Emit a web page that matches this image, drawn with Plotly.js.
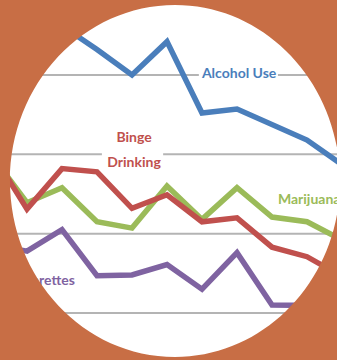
<!DOCTYPE html>
<html>
<head>
<meta charset="utf-8">
<script src="https://cdn.plot.ly/plotly-3.0.1.min.js"></script>
<style>
  html, body { margin: 0; padding: 0; background: #C86E45; }
  #chart { width: 337px; height: 360px; }
</style>
</head>
<body>
<div id="chart"></div>
<script>
// ---- data ----
var years = [2002, 2003, 2004, 2005, 2006, 2007, 2008, 2009, 2010, 2011, 2012];
var alcoholUse    = [51.4, 48.8, 46.2, 43.2, 40.0, 44.2, 35.2, 35.7, 33.7, 31.8, 28.7];
var bingeDrinking = [30.2, 23.1, 28.2, 27.8, 23.2, 24.9, 21.5, 22.0, 18.3, 17.1, 14.6];
var marijuana     = [29.8, 23.9, 25.8, 21.5, 20.7, 26.0, 21.8, 25.8, 22.1, 21.5, 19.2];
var cigarettes    = [18.6, 17.8, 20.5, 14.7, 14.8, 16.1, 13.0, 17.6, 11.0, 10.9, 10.9];
var gridValues = [10, 20, 30, 40, 50];
var seriesNames = ['Alcohol Use', 'Binge Drinking', 'Marijuana', 'Cigarettes'];

// ---- styling ----
var W = 337, H = 360;
var bg = '#C86E45';
var colors = ['#4a7ebb', '#c0504d', '#9bbb59', '#7f63a1'];
var labelFont = 'Lato, "Open Sans", sans-serif';

function lineTrace(y, c, name) {
  return { x: years, y: y, type: 'scatter', mode: 'lines', name: name,
           line: { color: c, width: 5.5 }, hoverinfo: 'skip' };
}
function textTrace(x, y, txt, c, pos) {
  return { x: [x], y: [y], type: 'scatter', mode: 'text', text: [txt],
           textposition: pos, textfont: { family: labelFont, size: 14, color: c, weight: 'bold' },
           hoverinfo: 'skip', cliponaxis: false };
}

var data = [
  lineTrace(cigarettes, colors[3], seriesNames[3]),
  lineTrace(marijuana, colors[2], seriesNames[2]),
  lineTrace(bingeDrinking, colors[1], seriesNames[1]),
  lineTrace(alcoholUse, colors[0], seriesNames[0]),
  textTrace(2009.06, 40.0, 'Alcohol Use', colors[0], 'middle center'),
  textTrace(2006.06, 32.0, 'Binge', colors[1], 'middle center'),
  textTrace(2006.06, 28.8, 'Drinking', colors[1], 'middle center'),
  textTrace(2010.17, 24.2, 'Marijuana', colors[2], 'middle right'),
  textTrace(2004.37, 14.0, 'Cigarettes', colors[3], 'middle left')
];

// gridlines (full width) with white gaps behind labels
var shapes = [];
gridValues.forEach(function (v) {
  shapes.push({ type: 'line', xref: 'paper', yref: 'y', x0: 0, x1: 1, y0: v, y1: v,
                line: { color: '#b4b4b4', width: 2 }, layer: 'below' });
});
shapes.push({ type: 'rect', xref: 'x', yref: 'y', x0: 2007.91, x1: 2010.17, y0: 38.8, y1: 41.2,
              fillcolor: '#ffffff', line: { width: 0 }, layer: 'below' });
shapes.push({ type: 'rect', xref: 'x', yref: 'y', x0: 2005.14, x1: 2006.89, y0: 28.8, y1: 31.2,
              fillcolor: '#ffffff', line: { width: 0 }, layer: 'below' });

// orange mask with an elliptical window
var cx = 175, cy = 181, rx = 165, ry = 176, k = 0.5523;
function P(px, py) { return (px / W).toFixed(5) + ',' + (1 - py / H).toFixed(5); }
var path = 'M' + P(-2, -2) + ' L' + P(W + 2, -2) + ' L' + P(W + 2, H + 2) + ' L' + P(-2, H + 2) + ' Z ' +
  'M' + P(cx, cy - ry) +
  ' C' + P(cx - k * rx, cy - ry) + ' ' + P(cx - rx, cy - k * ry) + ' ' + P(cx - rx, cy) +
  ' C' + P(cx - rx, cy + k * ry) + ' ' + P(cx - k * rx, cy + ry) + ' ' + P(cx, cy + ry) +
  ' C' + P(cx + k * rx, cy + ry) + ' ' + P(cx + rx, cy + k * ry) + ' ' + P(cx + rx, cy) +
  ' C' + P(cx + rx, cy - k * ry) + ' ' + P(cx + k * rx, cy - ry) + ' ' + P(cx, cy - ry) + ' Z';
shapes.push({ type: 'path', xref: 'paper', yref: 'paper', path: path, fillcolor: bg,
              fillrule: 'evenodd', line: { width: 0 }, layer: 'above' });

var layout = {
  width: W, height: H,
  margin: { l: 0, r: 0, t: 0, b: 0, pad: 0 },
  paper_bgcolor: '#ffffff', plot_bgcolor: '#ffffff',
  showlegend: false,
  xaxis: { range: [2002.229, 2011.857], visible: false, fixedrange: true },
  yaxis: { range: [4.08, 49.45], visible: false, fixedrange: true },
  shapes: shapes
};

Plotly.newPlot('chart', data, layout, { staticPlot: true, displayModeBar: false });
</script>
</body>
</html>
